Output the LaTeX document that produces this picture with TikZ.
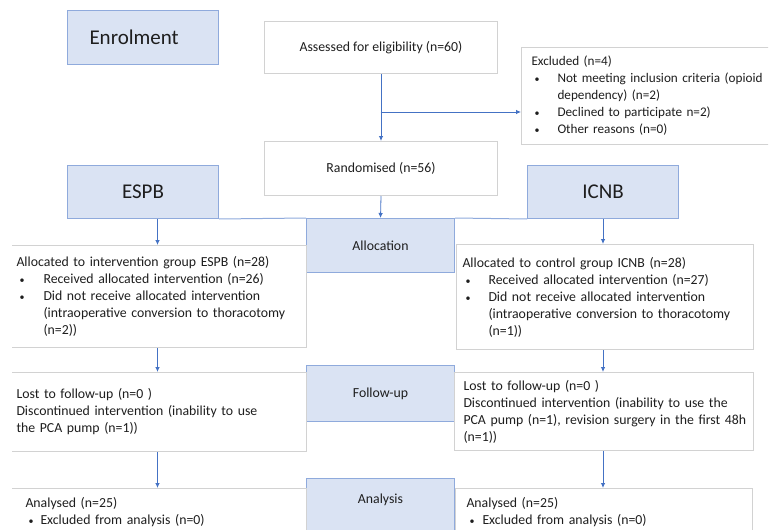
\documentclass[tikz,border=0pt]{standalone}
\usepackage{fontspec}
\setmainfont{Carlito}
\usepackage{tikz}
\usetikzlibrary{arrows.meta}

\definecolor{boxblue}{HTML}{DAE3F3}
\definecolor{edgeblue}{HTML}{8FAADC}
\definecolor{arrowblue}{HTML}{4472C4}
\definecolor{edgegray}{HTML}{D2D2D2}
\definecolor{textdark}{HTML}{1E1E1E}

% bullet and hanging indent for the list lines
\newcommand{\bul}[1]{\makebox[#1][l]{\hspace{3pt}{\fontsize{10}{10}\selectfont\textbullet}}}
\newcommand{\ind}[1]{\hspace*{#1}}

\tikzset{
  stage/.style={draw=edgeblue, fill=boxblue, line width=1pt, anchor=north west,
    inner sep=0pt, text=textdark, font=\fontsize{13.8}{17}\selectfont},
  group/.style={stage, font=\fontsize{21}{25}\selectfont},
  infobox/.style={draw=edgegray, fill=white, line width=1pt, anchor=north west,
    align=left, inner ysep=0pt, text=textdark, font=\fontsize{13.8}{17}\selectfont},
  flow/.style={-{Latex[length=5pt,width=4.5pt]}, arrowblue, line width=0.8pt}
}

\begin{document}
\begin{tikzpicture}[x=1pt, y=-1pt]

  % picture is 779 x 530, left and right edges cut off
  \useasboundingbox (0,0) rectangle (779,530);
  \clip (12,0) rectangle (768,530);

  % --- Enrolment ---
  \node[group, align=left, inner xsep=22pt, text width=107pt, minimum height=54] (enrol) at (67,10)
    {Enrolment};
  \node[infobox, align=center, minimum width=233, minimum height=52] (assess) at (264,21)
    {Assessed for eligibility (n=60)};
  \node[infobox, inner xsep=10pt, text width=280pt, minimum height=97,
    font=\fontsize{13.2}{17}\selectfont] (excl) at (521,47)
    {Excluded (n=4)\\
     \bul{26pt}Not meeting inclusion criteria (opioid\\
     \ind{26pt}dependency) (n=2)\\
     \bul{26pt}Declined to participate n=2)\\
     \bul{26pt}Other reasons (n=0)};
  \node[infobox, align=center, minimum width=233, minimum height=54] (random) at (264,141)
    {Randomised (n=56)};

  % --- Allocation ---
  \node[group, minimum width=151, minimum height=53] (espb) at (67,165) {ESPB};
  \node[group, minimum width=151, minimum height=53] (icnb) at (527,165) {ICNB};
  \node[stage, minimum width=148, minimum height=54] (alloc) at (306,218) {Allocation};
  \node[infobox, inner xsep=8pt, text width=282pt, minimum height=102] (allocL) at (8,245)
    {Allocated to intervention group ESPB (n=28)\\
     \bul{27pt}Received allocated intervention (n=26)\\
     \bul{27pt}Did not receive allocated intervention\\
     \ind{27pt}(intraoperative conversion to thoracotomy\\
     \ind{27pt}(n=2))};
  \node[infobox, inner xsep=6pt, text width=285pt, minimum height=105] (allocR) at (456,244)
    {Allocated to control group ICNB (n=28)\\
     \bul{26pt}Received allocated intervention (n=27)\\
     \bul{26pt}Did not receive allocated intervention\\
     \ind{26pt}(intraoperative conversion to thoracotomy\\
     \ind{26pt}(n=1))};

  % --- Follow-up ---
  \node[stage, minimum width=148, minimum height=56] (follow) at (306,365) {Follow-up};
  \node[infobox, inner xsep=8pt, text width=282pt, minimum height=79] (followL) at (8,372)
    {Lost to follow-up (n=0 )\\
     Discontinued intervention (inability to use\\
     the PCA pump (n=1))};
  \node[infobox, inner xsep=9pt, text width=281pt, minimum height=78] (followR) at (454,372)
    {Lost to follow-up (n=0 )\\
     Discontinued intervention (inability to use the\\
     \mbox{PCA pump (n=1), revision surgery in the first 48h}\\
     (n=1))};

  % --- Analysis ---
  \node[stage, minimum width=148, inner ysep=15pt] (analysis) at (306,478)
    {Analysis\rule[-45pt]{0pt}{0pt}};
  \node[infobox, inner xsep=17pt, inner ysep=9pt, text width=264pt] (analysisL) at (8,488)
    {Analysed (n=25)\\
     \bul{15pt}Excluded from analysis (n=0)\rule[-40pt]{0pt}{0pt}};
  \node[infobox, inner xsep=11pt, inner ysep=9pt, text width=275pt] (analysisR) at (455,488)
    {Analysed (n=25)\\
     \bul{16pt}Excluded from analysis (n=0)\rule[-40pt]{0pt}{0pt}};

  % --- Arrows ---
  \coordinate (split) at (380.5,112);
  \draw[flow] (assess.south) -- (random.north);
  \draw[flow] (split) -- (split -| excl.west);
  \draw[flow] (random.south) -- (alloc.north);
  \draw[edgeblue, line width=1pt] (espb.south east) -- (alloc.north west);
  \draw[edgeblue, line width=1pt] (alloc.north east) -- (icnb.south west);
  \draw[flow] (allocL.north |- espb.south) -- (allocL.north);
  \draw[flow] (icnb.south) -- (icnb.south |- allocR.north);
  \draw[flow] (allocL.south) -- (followL.north);
  \draw[flow] (icnb.south |- allocR.south) -- (icnb.south |- followR.north);
  \draw[flow] (followL.south) -- (analysisL.north);
  \draw[flow] (icnb.south |- followR.south) -- (icnb.south |- analysisR.north);
\end{tikzpicture}
\end{document}
